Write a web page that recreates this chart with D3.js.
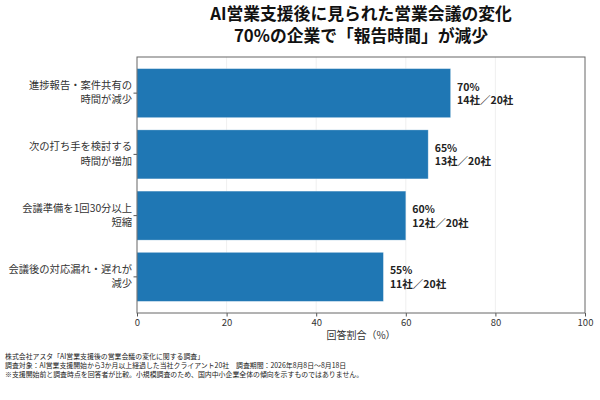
<!DOCTYPE html>
<html><head><meta charset="utf-8">
<script src="https://cdn.jsdelivr.net/npm/d3@7"></script>
<style>
html,body{margin:0;padding:0;background:#fff;}
svg{display:block;font-family:"Noto Sans CJK JP","Noto Sans",sans-serif;}
</style></head>
<body><svg id="chart" width="600" height="400"></svg>
<script>
const titleLines = ["AI営業支援後に見られた営業会議の変化", "70%の企業で「報告時間」が減少"];
const categories = ["進捗報告・案件共有の\n時間が減少", "次の打ち手を検討する\n時間が増加", "会議準備を1回30分以上\n短縮", "会議後の対応漏れ・遅れが\n減少"];
const values = [70, 65, 60, 55];
const counts = [14, 13, 12, 11];
const totalCompanies = 20;
const xTicks = [0, 20, 40, 60, 80, 100];
const xLabel = "回答割合（%）";
const footerLines = [
  "株式会社アスタ「AI営業支援後の営業会議の変化に関する調査」",
  "調査対象：AI営業支援開始から3か月以上経過した当社クライアント20社　調査期間：2026年8月8日～8月18日",
  "※支援開始前と調査時点を回答者が比較。小規模調査のため、国内中小企業全体の傾向を示すものではありません。"
];

const svg = d3.select("#chart");
const m = {left: 137, right: 585, top: 57, bottom: 313};

const x = d3.scaleLinear().domain([0, 100]).range([m.left, m.right]);
const y = d3.scaleBand().domain(categories).range([m.top, m.bottom]).paddingInner(0.2).paddingOuter(0.19);

// grid
svg.append("g").selectAll("line").data(xTicks.slice(1, -1)).join("line")
  .attr("x1", d => x(d)).attr("x2", d => x(d))
  .attr("y1", m.top).attr("y2", m.bottom)
  .attr("stroke", "#ebebeb").attr("stroke-width", 0.8);

// bars
svg.append("g").selectAll("rect").data(categories).join("rect")
  .attr("x", x(0))
  .attr("y", d => y(d))
  .attr("width", (d, i) => x(values[i]) - x(0))
  .attr("height", y.bandwidth())
  .attr("fill", "#1f77b4")
  .attr("stroke", "#ffffff").attr("stroke-opacity", 0.35).attr("stroke-width", 0.8);

// value labels
const vl = svg.append("g").selectAll("text").data(categories).join("text")
  .attr("x", (d, i) => x(values[i]) + 6.5)
  .attr("y", d => y(d) + y.bandwidth() / 2)
  .attr("font-size", 10.5).attr("font-weight", "bold").attr("fill", "#222");
vl.append("tspan").attr("x", (d, i) => x(values[i]) + 6.5).attr("dy", -2.5)
  .text((d, i) => values[i] + "%");
vl.append("tspan").attr("x", (d, i) => x(values[i]) + 6.5).attr("dy", 13.5)
  .text((d, i) => counts[i] + "社／" + totalCompanies + "社");

// x axis
const xAxis = svg.append("g").attr("transform", `translate(0,${m.bottom})`)
  .call(d3.axisBottom(x).tickValues(xTicks).tickSize(3.5).tickPadding(2.5).tickFormat(d3.format("d")));
xAxis.select(".domain").remove();
xAxis.selectAll(".tick line").attr("stroke", "#555");
xAxis.selectAll(".tick text").attr("font-size", 9.5).attr("fill", "#333")
  .attr("font-family", "'Noto Sans CJK JP','Noto Sans',sans-serif");

// y axis
const yAxis = svg.append("g").attr("transform", `translate(${m.left},0)`)
  .call(d3.axisLeft(y).tickSize(3.5).tickPadding(4));
yAxis.select(".domain").remove();
yAxis.selectAll(".tick text").remove();
yAxis.selectAll(".tick line").attr("stroke", "#555");
yAxis.selectAll(".tick").each(function(d) {
  const lines = d.split("\n");
  const t = d3.select(this).append("text")
    .attr("x", -5).attr("text-anchor", "end")
    .attr("font-size", 10.3).attr("fill", "#333")
    .attr("font-family", "'Noto Sans CJK JP','Noto Sans',sans-serif")
    .attr("y", -0.5);
  const lh = 14.2;
  t.append("tspan").attr("x", -5).attr("dy", (-(lines.length - 1) / 2 * lh + 3.6).toFixed(2)).text(lines[0]);
  lines.slice(1).forEach(s => {
    t.append("tspan").attr("x", -5).attr("dy", lh).text(s);
  });
});

// frame
svg.append("rect").attr("x", m.left).attr("y", m.top)
  .attr("width", m.right - m.left).attr("height", m.bottom - m.top)
  .attr("fill", "none").attr("stroke", "#666").attr("stroke-width", 1);

// axis label
svg.append("text").attr("x", (m.left + m.right) / 2).attr("y", 339)
  .attr("text-anchor", "middle").attr("font-size", 10).attr("fill", "#333").text(xLabel);

// title
const tt = svg.append("text")
  .attr("x", (m.left + m.right) / 2).attr("y", 20)
  .attr("text-anchor", "middle").attr("font-size", 16.8).attr("font-weight", "bold").attr("fill", "#111");
tt.selectAll("tspan").data(titleLines).join("tspan")
  .attr("x", (m.left + m.right) / 2)
  .attr("dy", (d, i) => i === 0 ? 0 : 22)
  .text(d => d);

// footer
svg.append("g").selectAll("text").data(footerLines).join("text")
  .attr("x", 5).attr("y", (d, i) => 358.5 + i * 9)
  .attr("font-size", 6.9).attr("fill", "#222")
  .text(d => d);
</script>
</body></html>
